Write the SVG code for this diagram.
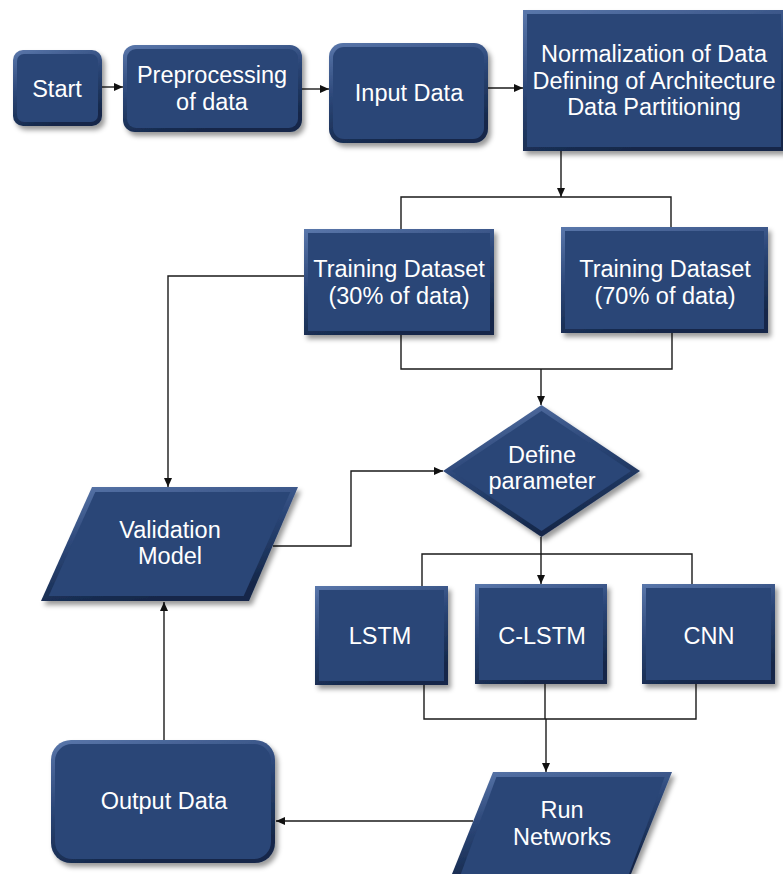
<svg xmlns="http://www.w3.org/2000/svg" width="783" height="874" viewBox="0 0 783 874">
<defs>
<linearGradient id="bev" x1="0" y1="0" x2="0.35" y2="1">
<stop offset="0" stop-color="#5a77ab"/>
<stop offset="0.5" stop-color="#2b4677"/>
<stop offset="1" stop-color="#15284a"/>
</linearGradient>
<filter id="sh" x="-10%" y="-10%" width="125%" height="130%">
<feDropShadow dx="3" dy="4" stdDeviation="2.5" flood-color="#000" flood-opacity="0.4"/>
</filter>
<marker id="ah" markerWidth="9" markerHeight="8" refX="9" refY="4" orient="auto" markerUnits="userSpaceOnUse">
<path d="M0,0 L9,4 L0,8 z" fill="#111"/>
</marker>
</defs>
<style>
.o{fill:url(#bev);filter:url(#sh)}
.i{fill:#2a4677}
.t{font-family:"Liberation Sans",Arial,sans-serif;font-size:23.5px;fill:#fff;text-anchor:middle}
.c{fill:none;stroke:#1a1a1a;stroke-width:1.4}
.a{marker-end:url(#ah)}
</style>
<rect width="783" height="874" fill="#fff"/>

<g id="connectors">
<path class="c a" d="M102,87 L123,87"/>
<path class="c a" d="M302,89 L329,89"/>
<path class="c a" d="M488,88 L523,88"/>
<path class="c a" d="M561,151 L561,197"/>
<path class="c" d="M401,229 L401,197 L671,197 L671,227"/>
<path class="c" d="M401,335 L401,369 L672,369 L672,333"/>
<path class="c a" d="M541,369 L541,405"/>
<path class="c a" d="M304,276 L168,276 L168,487"/>
<path class="c a" d="M273,546 L351,546 L351,471 L443,471"/>
<path class="c a" d="M541,537 L541,584"/>
<path class="c" d="M422,586 L422,554 L692,554 L692,584"/>
<path class="c" d="M424,685 L424,719 L696,719 L696,684"/>
<path class="c" d="M545,684 L545,719"/>
<path class="c a" d="M546,719 L546,772"/>
<path class="c a" d="M473,821 L276,821"/>
<path class="c a" d="M164,740 L164,602"/>
</g>

<g id="start">
<rect class="o" x="13" y="50" width="89" height="76" rx="10"/>
<rect class="i" x="17" y="54" width="81" height="68" rx="7"/>
<text class="t" x="57" y="97">Start</text>
</g>

<g id="preprocessing">
<rect class="o" x="123" y="45" width="179" height="87" rx="12"/>
<rect class="i" x="127" y="49" width="171" height="79" rx="9"/>
<text class="t" x="212" y="83">Preprocessing</text>
<text class="t" x="212" y="110">of data</text>
</g>

<g id="input">
<rect class="o" x="329" y="43" width="159" height="100" rx="14"/>
<rect class="i" x="333" y="47" width="151" height="92" rx="11"/>
<text class="t" x="409" y="101">Input Data</text>
</g>

<g id="normalization">
<rect class="o" x="523" y="10" width="262" height="141"/>
<rect class="i" x="527" y="14" width="254" height="133"/>
<text class="t" x="654" y="62">Normalization of Data</text>
<text class="t" x="654" y="89">Defining of Architecture</text>
<text class="t" x="654" y="115">Data Partitioning</text>
</g>

<g id="train30">
<rect class="o" x="304" y="229" width="190" height="106"/>
<rect class="i" x="308" y="233" width="182" height="98"/>
<text class="t" x="399" y="277">Training Dataset</text>
<text class="t" x="399" y="304">(30% of data)</text>
</g>

<g id="train70">
<rect class="o" x="561" y="227" width="207" height="106"/>
<rect class="i" x="565" y="231" width="199" height="98"/>
<text class="t" x="665" y="277">Training Dataset</text>
<text class="t" x="665" y="304">(70% of data)</text>
</g>

<g id="define">
<polygon class="o" points="541.5,405 640,471 541.5,537 443,471"/>
<polygon class="i" points="541.5,411 631,471 541.5,531 452,471"/>
<text class="t" x="542" y="463">Define</text>
<text class="t" x="542" y="489">parameter</text>
</g>

<g id="validation">
<polygon class="o" points="92,487 298,487 249,601 41,601"/>
<polygon class="i" points="95.3,492 290.3,492 243.7,596 48.7,596"/>
<text class="t" x="170" y="538">Validation</text>
<text class="t" x="170" y="564">Model</text>
</g>

<g id="lstm">
<rect class="o" x="315" y="586" width="133" height="99"/>
<rect class="i" x="319" y="590" width="125" height="91"/>
<text class="t" x="380" y="644">LSTM</text>
</g>

<g id="clstm">
<rect class="o" x="475" y="584" width="132" height="100"/>
<rect class="i" x="479" y="588" width="124" height="92"/>
<text class="t" x="542" y="644">C-LSTM</text>
</g>

<g id="cnn">
<rect class="o" x="642" y="584" width="133" height="100"/>
<rect class="i" x="646" y="588" width="125" height="92"/>
<text class="t" x="709" y="644">CNN</text>
</g>

<g id="run">
<polygon class="o" points="493,772 672,772 630.6,875 451.6,875"/>
<polygon class="i" points="496.4,777 664.6,777 626.8,880 458.6,880"/>
<text class="t" x="562" y="818">Run</text>
<text class="t" x="562" y="845">Networks</text>
</g>

<g id="output">
<rect class="o" x="51" y="740" width="224" height="123" rx="20"/>
<rect class="i" x="55" y="744" width="216" height="115" rx="17"/>
<text class="t" x="164" y="809">Output Data</text>
</g>
</svg>
